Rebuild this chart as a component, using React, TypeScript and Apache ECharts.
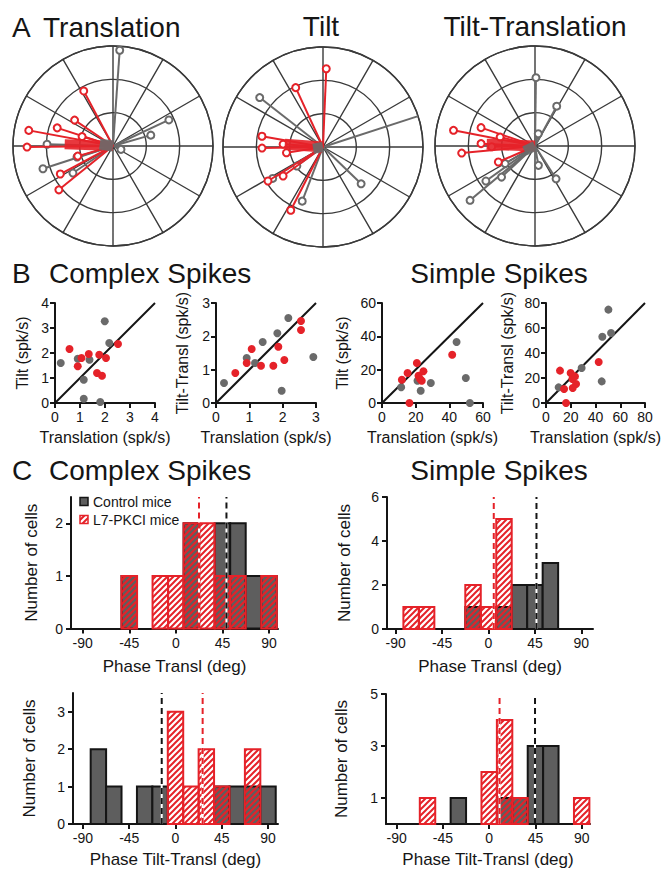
import React, { useEffect, useRef } from 'react';
import * as echarts from 'echarts';

const FONT = '"Liberation Sans", Arial, Helvetica, sans-serif';
const RED = '#e52229';
const GRAY = '#6a6a6a';
const BAR_GRAY = '#5e5e5e';
const INK = '#151515';
const RING = '#3a3a3a';

// ---------- A: polar vectors [gain (outer ring = 3), phase (deg)] ----------
const translationControl = [[2.88, 86], [1.85, 25], [1.18, 16], [0.26, 337], [1.98, 178.5], [2.21, 198], [1.45, 214], [1.13, 197]];
const translationL7 = [[1.87, 118], [1.39, 146], [2.57, 169.5], [1.76, 162], [2.58, 180.7], [0.97, 163], [1.1, 196], [1.79, 208], [2.09, 219]];
const translationMeanL7 = [1.45, 178];
const translationMeanControl = [0.4, 172];

const tiltControl = [[2.41, 142], [3.0, 18], [1.59, 316], [1.74, 249], [1.78, 212], [0.97, 216]];
const tiltL7 = [[2.35, 87.6], [1.96, 114.7], [1.86, 170], [1.83, 181], [1.2, 176], [1.11, 189], [1.94, 211.7], [1.48, 216], [2.13, 243]];
const tiltMeanL7 = [1.15, 176];
const tiltMeanControl = [0.3, 190];

const tiltTranslControl = [[2.05, 89.2], [1.36, 61.4], [0.38, 75], [0.59, 280], [1.17, 302.7], [2.54, 219.9], [1.81, 215.5], [1.37, 222.9], [1.04, 210.5]];
const tiltTranslL7 = [[2.49, 169.1], [1.71, 161.2], [1.62, 177.5], [2.21, 185.5], [1.2, 203.6], [1.08, 165.6], [1.3, 181]];
const tiltTranslMeanL7 = [1.45, 178];
const tiltTranslMeanControl = [0.35, 205];

// ---------- B: scatter [translation, tilt or tilt-transl] (spk/s) ----------
const csTiltControl = [[0.23, 1.6], [0.91, 1.77], [1.38, 1.73], [1.15, 0.93], [1.15, 0.17], [1.81, 0.04], [1.99, 3.27], [2.17, 2.4]];
const csTiltL7 = [[0.58, 2.16], [0.91, 1.47], [1.06, 1.8], [1.35, 1.96], [1.77, 1.93], [2.04, 1.8], [1.68, 1.2], [1.88, 1.09], [2.52, 2.36]];
const csTiltTranslControl = [[0.24, 0.6], [0.92, 1.35], [1.4, 1.83], [1.17, 1.2], [1.84, 2.09], [2.17, 2.55], [1.97, 0.37], [2.92, 1.38]];
const csTiltTranslL7 = [[0.58, 0.9], [0.92, 1.2], [1.07, 1.62], [1.35, 1.12], [1.72, 1.12], [1.87, 1.69], [2.05, 1.29], [2.55, 2.46], [2.55, 2.19]];
const ssTiltControl = [[11.4, 9.4], [21.1, 13.4], [23, 7.4], [29, 12], [44.3, 36.6], [49.8, 15], [52.2, 0]];
const ssTiltL7 = [[11.8, 14], [15.2, 18], [16.3, 0], [20.7, 24], [21.7, 16.4], [22.6, 14.4], [23.6, 13.4], [24.6, 19], [41.7, 29]];
const ssTiltTranslControl = [[10.2, 12.5], [28.8, 28], [45.5, 53], [52.6, 56], [50.4, 74.7], [45, 17.3]];
const ssTiltTranslL7 = [[11.3, 25.9], [14.6, 11.2], [16.2, 0], [19.9, 24], [21.3, 19.2], [23.4, 21.3], [24.3, 15.2], [21.6, 12], [42.6, 32.8]];

// ---------- C: phase histograms (15 deg bins) ----------
const phaseBins = [-90, -75, -60, -45, -30, -15, 0, 15, 30, 45, 60, 75, 90];
const csTranslControl = [0, 0, 0, 1, 0, 0, 0, 2, 0, 2, 2, 1, 1];
const csTranslL7 = [0, 0, 0, 1, 0, 1, 1, 2, 2, 1, 1, 0, 1];
const ssTranslControl = [0, 0, 0, 0, 0, 1, 0, 1, 2, 2, 3, 0, 0];
const ssTranslL7 = [0, 1, 1, 0, 0, 2, 1, 5, 0, 0, 0, 0, 0];
const csTiltTranslHistControl = [0, 2, 1, 0, 1, 1, 0, 0, 0, 1, 1, 1, 1];
const csTiltTranslHistL7 = [0, 0, 0, 0, 0, 0, 3, 1, 2, 1, 0, 2, 0];
const ssTiltTranslHistControl = [0, 0, 0, 0, 1, 0, 0, 1, 1, 3, 3, 0, 0];
const ssTiltTranslHistL7 = [0, 0, 1, 0, 0, 0, 2, 4, 1, 0, 0, 0, 1];
// mean phases [control, L7]
const csTranslMeans = [48.9, 22.4];
const ssTranslMeans = [46.5, 5.1];
const csTiltTranslMeans = [-13.4, 26.4];
const ssTiltTranslMeans = [44.6, 10.1];
const phaseTicks = [-90, -45, 0, 45, 90];

function makeHatch() {
  const s = 6;
  const c = document.createElement('canvas');
  c.width = s;
  c.height = s;
  const ctx = c.getContext('2d')!;
  ctx.strokeStyle = RED;
  ctx.lineWidth = 2;
  ctx.beginPath();
  ctx.moveTo(0, s); ctx.lineTo(s, 0);
  ctx.moveTo(-s / 2, s / 2); ctx.lineTo(s / 2, -s / 2);
  ctx.moveTo(s / 2, s * 1.5); ctx.lineTo(s * 1.5, s / 2);
  ctx.stroke();
  return { image: c.toDataURL(), repeat: 'repeat', imageWidth: s, imageHeight: s };
}

function buildOption() {
  const hatch = makeHatch();

  const vectors = (list: number[][], pi: number, color: string, z: number) =>
    list.map(([r, a]) => ({
      type: 'line', coordinateSystem: 'polar', polarIndex: pi, silent: true, z,
      symbol: 'emptyCircle', symbolSize: 7, showSymbol: true,
      lineStyle: { color, width: 2 }, itemStyle: { color, borderColor: color, borderWidth: 2 },
      data: [{ value: [0, a], symbol: 'none' }, { value: [r, a] }],
    }));
  const meanBar = (v: number[], pi: number, color: string, width: number, z: number) => ({
    type: 'line', coordinateSystem: 'polar', polarIndex: pi, silent: true, z,
    symbol: 'none', lineStyle: { color, width, cap: 'butt', opacity: 0.9 },
    data: [[0, v[1]], [v[0], v[1]]],
  });

  const polarCenters = [[113, 146], [323, 147], [535, 146]];

  const baseAxis = (o: any) => ({
    type: 'value',
    axisLine: { show: true, onZero: false, lineStyle: { color: INK, width: 2 } },
    axisTick: { show: true, length: 5, lineStyle: { color: INK, width: 2 }, ...(o.tickValues ? { customValues: o.tickValues } : {}) },
    axisLabel: { color: INK, fontSize: 14, fontFamily: FONT, margin: o.margin ?? 7, ...(o.tickValues ? { customValues: o.tickValues } : {}) },
    splitLine: { show: false },
    nameLocation: 'middle',
    nameTextStyle: { color: INK, fontSize: o.nameSize ?? 16, fontFamily: FONT },
    gridIndex: o.gridIndex, min: o.min, max: o.max,
    ...(o.interval ? { interval: o.interval } : {}),
    name: o.name, nameGap: o.nameGap,
  });

  const xAxis = [
    baseAxis({ gridIndex: 0, min: 0, max: 4, interval: 1, name: 'Translation (spk/s)', nameGap: 26 }),
    baseAxis({ gridIndex: 1, min: 0, max: 3, interval: 1, name: 'Translation (spk/s)', nameGap: 26 }),
    baseAxis({ gridIndex: 2, min: 0, max: 60, interval: 20, name: 'Translation (spk/s)', nameGap: 26 }),
    baseAxis({ gridIndex: 3, min: 0, max: 80, interval: 20, name: 'Translation (spk/s)', nameGap: 26 }),
    baseAxis({ gridIndex: 4, min: -101.3, max: 98.7, tickValues: phaseTicks, name: 'Phase Transl (deg)', nameGap: 29, nameSize: 17 }),
    baseAxis({ gridIndex: 5, min: -98.4, max: 101.3, tickValues: phaseTicks, name: 'Phase Transl (deg)', nameGap: 29, nameSize: 17 }),
    baseAxis({ gridIndex: 6, min: -99.7, max: 99.7, tickValues: phaseTicks, name: 'Phase Tilt-Transl (deg)', nameGap: 27, nameSize: 17 }),
    baseAxis({ gridIndex: 7, min: -100.4, max: 98.1, tickValues: phaseTicks, name: 'Phase Tilt-Transl (deg)', nameGap: 27, nameSize: 17 }),
  ];
  const yAxis = [
    baseAxis({ gridIndex: 0, min: 0, max: 4, interval: 1, name: 'Tilt (spk/s)', nameGap: 25, margin: 6 }),
    baseAxis({ gridIndex: 1, min: 0, max: 3, interval: 1, name: 'Tilt-Transl (spk/s)', nameGap: 26, margin: 6 }),
    baseAxis({ gridIndex: 2, min: 0, max: 60, interval: 20, name: 'Tilt (spk/s)', nameGap: 32, margin: 6 }),
    baseAxis({ gridIndex: 3, min: 0, max: 80, interval: 20, name: 'Tilt-Transl (spk/s)', nameGap: 31, margin: 6 }),
    baseAxis({ gridIndex: 4, min: 0, max: 2.5, tickValues: [0, 1, 2], name: 'Number of cells', nameGap: 31, nameSize: 17, margin: 8 }),
    baseAxis({ gridIndex: 5, min: 0, max: 6, tickValues: [0, 2, 4, 6], name: 'Number of cells', nameGap: 34, nameSize: 17, margin: 8 }),
    baseAxis({ gridIndex: 6, min: 0, max: 3.5, tickValues: [0, 1, 2, 3], name: 'Number of cells', nameGap: 35, nameSize: 17, margin: 8 }),
    baseAxis({ gridIndex: 7, min: 0, max: 5, tickValues: [1, 3, 5], name: 'Number of cells', nameGap: 36, nameSize: 17, margin: 8 }),
  ];

  const scatter = (data: number[][], gi: number, color: string) => ({
    type: 'scatter', xAxisIndex: gi, yAxisIndex: gi, silent: true, clip: false, z: 4,
    symbolSize: 8, itemStyle: { color, opacity: 1 }, data,
  });
  const diagonal = (gi: number, m: number) => ({
    type: 'line', xAxisIndex: gi, yAxisIndex: gi, silent: true, symbol: 'none', z: 3,
    lineStyle: { color: INK, width: 2 }, data: [[0, 0], [m, m]],
  });

  const histData = (counts: number[]) => phaseBins.map((b, i) => [b, counts[i]]).filter((d) => d[1] > 0);
  const bars = (counts: number[], gi: number, l7: boolean) => ({
    type: 'custom', xAxisIndex: gi, yAxisIndex: gi, silent: true, clip: false, z: l7 ? 3 : 2,
    encode: { x: 0, y: 1 },
    data: histData(counts),
    renderItem: (_p: any, api: any) => {
      const c = api.value(0);
      const n = api.value(1);
      const a = api.coord([c - 7.5, n]);
      const b = api.coord([c + 7.5, 0]);
      return {
        type: 'rect',
        shape: { x: a[0], y: a[1], width: b[0] - a[0], height: b[1] - a[1] },
        style: l7 ? { fill: hatch, stroke: RED, lineWidth: 2 } : { fill: BAR_GRAY, stroke: INK, lineWidth: 2 },
      };
    },
  });
  const meanLines = (means: number[], gi: number, top: number) => [
    ...means.map((x) => ({
      type: 'line', xAxisIndex: gi, yAxisIndex: gi, silent: true, symbol: 'none', z: 5,
      lineStyle: { color: '#ffffff', width: 2 }, data: [[x, 0], [x, top]],
    })),
    ...means.map((x, i) => ({
      type: 'line', xAxisIndex: gi, yAxisIndex: gi, silent: true, symbol: 'none', z: 6,
      lineStyle: { color: i === 0 ? INK : RED, width: 2, type: [6, 4] }, data: [[x, 0], [x, top]],
    })),
  ];

  const series: any[] = [
    ...vectors(translationControl, 0, GRAY, 2),
    ...vectors(translationL7, 0, RED, 3),
    meanBar(translationMeanL7, 0, RED, 10, 4),
    meanBar(translationMeanControl, 0, GRAY, 11, 5),
    ...vectors(tiltControl, 1, GRAY, 2),
    ...vectors(tiltL7, 1, RED, 3),
    meanBar(tiltMeanL7, 1, RED, 11, 4),
    meanBar(tiltMeanControl, 1, GRAY, 10, 5),
    ...vectors(tiltTranslControl, 2, GRAY, 2),
    ...vectors(tiltTranslL7, 2, RED, 3),
    meanBar(tiltTranslMeanL7, 2, RED, 11, 4),
    meanBar(tiltTranslMeanControl, 2, GRAY, 10, 5),

    diagonal(0, 4), scatter(csTiltControl, 0, GRAY), scatter(csTiltL7, 0, RED),
    diagonal(1, 3), scatter(csTiltTranslControl, 1, GRAY), scatter(csTiltTranslL7, 1, RED),
    diagonal(2, 60), scatter(ssTiltControl, 2, GRAY), scatter(ssTiltL7, 2, RED),
    diagonal(3, 80), scatter(ssTiltTranslControl, 3, GRAY), scatter(ssTiltTranslL7, 3, RED),

    bars(csTranslControl, 4, false), bars(csTranslL7, 4, true), ...meanLines(csTranslMeans, 4, 2.5),
    bars(ssTranslControl, 5, false), bars(ssTranslL7, 5, true), ...meanLines(ssTranslMeans, 5, 6),
    bars(csTiltTranslHistControl, 6, false), bars(csTiltTranslHistL7, 6, true), ...meanLines(csTiltTranslMeans, 6, 3.5),
    bars(ssTiltTranslHistControl, 7, false), bars(ssTiltTranslHistL7, 7, true), ...meanLines(ssTiltTranslMeans, 7, 5),
  ];

  const text = (t: string, x: number, y: number, size: number, align = 'left') => ({
    type: 'text', x, y, silent: true,
    style: { text: t, fill: INK, fontSize: size, fontFamily: FONT, align, verticalAlign: 'middle' },
  });

  return {
    animation: false,
    backgroundColor: '#ffffff',
    polar: polarCenters.map((c) => ({ center: c, radius: 100 })),
    angleAxis: [0, 1, 2].map((i) => ({
      polarIndex: i, type: 'value', min: 0, max: 360, interval: 30, startAngle: 0, clockwise: false,
      axisLine: { show: true, lineStyle: { color: RING, width: 1.4 } },
      axisTick: { show: false }, axisLabel: { show: false },
      splitLine: { show: true, lineStyle: { color: RING, width: 1.4 } },
    })),
    radiusAxis: [0, 1, 2].map((i) => ({
      polarIndex: i, type: 'value', min: 0, max: 3, interval: 1,
      axisLine: { show: false }, axisTick: { show: false }, axisLabel: { show: false },
      splitLine: { show: true, lineStyle: { color: RING, width: 1.4 } },
    })),
    grid: [
      { left: 55, top: 303, width: 100, height: 100 },
      { left: 216, top: 303, width: 100, height: 100 },
      { left: 382, top: 303, width: 101, height: 100 },
      { left: 546, top: 303, width: 99, height: 100 },
      { left: 71, top: 497, width: 207, height: 131.5 },
      { left: 387, top: 497, width: 206, height: 132 },
      { left: 73, top: 693, width: 205, height: 131 },
      { left: 386, top: 694, width: 204, height: 130 },
    ].map((g) => ({ ...g, containLabel: false, outerBoundsMode: 'none' })),
    xAxis,
    yAxis,
    series,
    graphic: [
      text('A', 12, 27, 28),
      text('Translation', 43, 27, 28),
      text('Tilt', 321, 26, 28, 'center'),
      text('Tilt-Translation', 535, 26, 28, 'center'),
      text('B', 12, 273, 28),
      text('Complex Spikes', 49, 273, 28),
      text('Simple Spikes', 499, 273, 28, 'center'),
      text('C', 12, 470, 28),
      text('Complex Spikes', 49, 470, 28),
      text('Simple Spikes', 499, 470, 28, 'center'),
      { type: 'rect', silent: true, z: 10, shape: { x: 80, y: 497.5, width: 8, height: 8 }, style: { fill: BAR_GRAY, stroke: INK, lineWidth: 1.5 } },
      text('Control mice', 93, 501.5, 14),
      { type: 'rect', silent: true, z: 10, shape: { x: 80, y: 515.5, width: 8, height: 8 }, style: { fill: hatch, stroke: RED, lineWidth: 1.5 } },
      text('L7-PKCI mice', 93, 519.5, 14),
    ],
  };
}

export default function App() {
  const ref = useRef<HTMLDivElement>(null);
  useEffect(() => {
    const chart = echarts.init(ref.current!, null, { renderer: 'svg' });
    chart.setOption(buildOption() as any);
    return () => chart.dispose();
  }, []);
  return (
    <div
      ref={ref}
      style={{ position: 'absolute', left: 0, top: 0, width: 662, height: 874, background: '#ffffff' }}
    />
  );
}
